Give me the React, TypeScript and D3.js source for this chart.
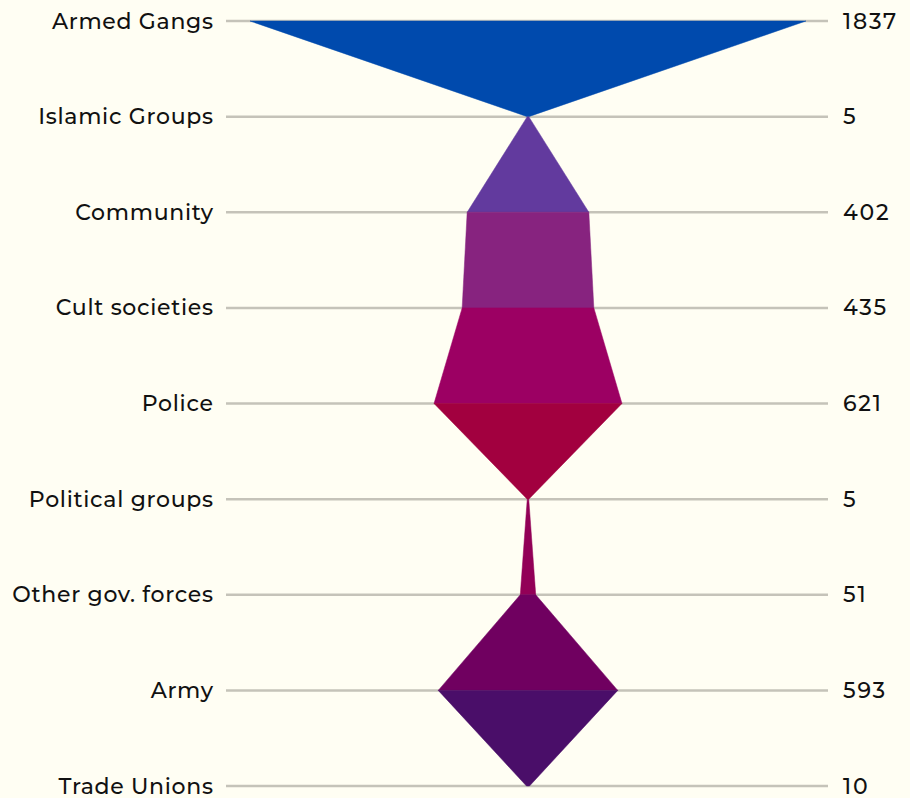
import React from "react";
import * as d3 from "d3";

const categories = [
  "Armed Gangs",
  "Islamic Groups",
  "Community",
  "Cult societies",
  "Police",
  "Political groups",
  "Other gov. forces",
  "Army",
  "Trade Unions",
];
const values = [1837, 5, 402, 435, 621, 5, 51, 593, 10];
const segmentColors = [
  "#004aad",
  "#623a9e",
  "#87237f",
  "#9c0063",
  "#a2003f",
  "#920057",
  "#700060",
  "#4a0e69",
];

const W = 910;
const H = 798;

export default function App() {
  const cx = 528;
  const y = d3.scalePoint<string>().domain(categories).range([21, 786]);
  const half = d3.scaleLinear().domain([0, 1837]).range([0, 278]);
  const lineX0 = 226;
  const lineX1 = 828;

  const segs = categories.slice(0, -1).map((c, i) => {
    const y0 = y(c)!;
    const y1 = y(categories[i + 1])!;
    const w0 = half(values[i]);
    const w1 = half(values[i + 1]);
    const d = `M${cx - w0},${y0}L${cx + w0},${y0}L${cx + w1},${y1}L${cx - w1},${y1}Z`;
    return { d, color: segmentColors[i] };
  });

  const font = "Montserrat, 'Open Sans', sans-serif";

  return (
    <svg
      width={W}
      height={H}
      style={{ position: "absolute", left: 0, top: 0, background: "#fffef3" }}
    >
      <rect x={0} y={0} width={W} height={H} fill="#fffef3" />
      {categories.map((c) => (
        <line
          key={"l" + c}
          x1={lineX0}
          x2={lineX1}
          y1={y(c)}
          y2={y(c)}
          stroke="#c5c3b9"
          strokeWidth={2.5}
        />
      ))}
      {segs.map((s, i) => (
        <path key={"s" + i} d={s.d} fill={s.color} stroke={s.color} strokeWidth={0.5} />
      ))}
      {categories.map((c, i) => (
        <text
          key={"t" + c}
          x={213.7}
          y={y(c)}
          textAnchor="end"
          dominantBaseline="central"
          fontFamily={font}
          fontSize={22}
          fontWeight={500}
          letterSpacing={0.7}
          fill="#111"
        >
          {c}
        </text>
      ))}
      {categories.map((c, i) => (
        <text
          key={"v" + c}
          x={843}
          y={y(c)}
          textAnchor="start"
          dominantBaseline="central"
          fontFamily={font}
          fontSize={22}
          fontWeight={500}
          letterSpacing={1.8}
          fill="#111"
        >
          {values[i]}
        </text>
      ))}
    </svg>
  );
}
